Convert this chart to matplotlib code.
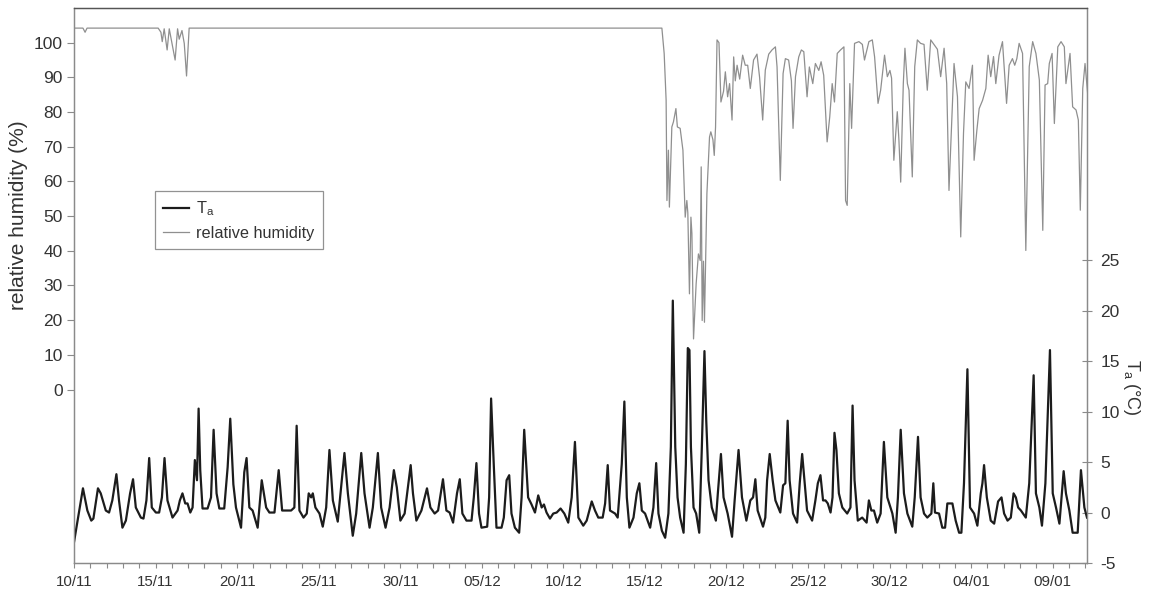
import matplotlib
matplotlib.use("Agg")
import matplotlib.pyplot as plt
from matplotlib.ticker import MultipleLocator, FixedLocator

plt.rcParams['font.family'] = ['Liberation Sans', 'DejaVu Sans']
plt.rcParams['mathtext.default'] = 'regular'
plt.rcParams['axes.unicode_minus'] = False

# x values are days after 10/11
tick_labels = ['10/11', '15/11', '20/11', '25/11', '30/11', '05/12', '10/12',
               '15/12', '20/12', '25/12', '30/12', '04/01', '09/01']

# air temperature (deg C)
ta_day = [0.00, 0.55, 0.82, 1.06, 1.19, 1.47, 1.64, 1.95, 2.15, 2.35, 2.60, 2.76, 2.97, 3.18,
          3.44, 3.62, 3.79, 4.10, 4.26, 4.44, 4.61, 4.77, 5.02, 5.22, 5.39, 5.55, 5.73, 6.04,
          6.35, 6.49, 6.65, 6.82, 6.96, 7.13, 7.27, 7.41, 7.54, 7.64, 7.74, 7.88, 8.19, 8.40,
          8.56, 8.74, 8.91, 9.21, 9.42, 9.58, 9.77, 9.93, 10.24, 10.44, 10.58, 10.75, 10.95,
          11.26, 11.51, 11.78, 11.98, 12.29, 12.55, 12.76, 12.96, 13.31, 13.51, 13.65, 13.82,
          14.07, 14.27, 14.39, 14.54, 14.64, 14.80, 15.05, 15.25, 15.46, 15.66, 15.87, 16.17,
          16.58, 16.79, 17.09, 17.30, 17.61, 17.81, 18.12, 18.32, 18.63, 18.83, 19.10, 19.35,
          19.61, 19.79, 20.01, 20.27, 20.64, 20.78, 20.99, 21.30, 21.64, 21.85, 22.11, 22.32,
          22.62, 22.83, 23.03, 23.24, 23.48, 23.65, 23.81, 24.06, 24.37, 24.51, 24.67, 24.83,
          24.98, 25.33, 25.45, 25.57, 25.74, 25.90, 26.21, 26.35, 26.52, 26.68, 26.82, 27.03,
          27.29, 27.44, 27.60, 27.84, 28.05, 28.26, 28.46, 28.67, 28.81, 28.97, 29.18, 29.38,
          29.59, 29.83, 30.06, 30.30, 30.51, 30.71, 30.92, 31.22, 31.43, 31.74, 31.94, 32.14,
          32.41, 32.56, 32.72, 32.86, 33.17, 33.33, 33.58, 33.74, 33.89, 34.05, 34.30, 34.50,
          34.66, 34.81, 35.01, 35.32, 35.52, 35.69, 35.83, 36.04, 36.24, 36.44, 36.59, 36.71,
          36.86, 37.00, 37.16, 37.37, 37.51, 37.63, 37.73, 37.82, 37.98, 38.14, 38.33, 38.49,
          38.65, 38.76, 38.90, 39.10, 39.35, 39.47, 39.66, 39.82, 40.07, 40.34, 40.50, 40.74,
          40.95, 41.22, 41.46, 41.63, 41.77, 41.91, 42.24, 42.38, 42.49, 42.65, 42.83, 43.00,
          43.30, 43.47, 43.61, 43.75, 43.87, 44.08, 44.33, 44.49, 44.64, 44.78, 44.94, 45.25,
          45.45, 45.60, 45.76, 45.92, 46.07, 46.21, 46.38, 46.50, 46.62, 46.74, 46.89, 47.10,
          47.40, 47.60, 47.73, 47.85, 48.05, 48.32, 48.59, 48.73, 48.88, 49.04, 49.24, 49.45,
          49.65, 49.86, 50.17, 50.37, 50.51, 50.68, 50.88, 51.09, 51.39, 51.54, 51.74, 51.90,
          52.11, 52.31, 52.56, 52.68, 52.78, 53.03, 53.23, 53.40, 53.54, 53.85, 54.05, 54.26,
          54.40, 54.56, 54.77, 54.93, 55.18, 55.38, 55.59, 55.69, 55.79, 55.96, 56.20, 56.41,
          56.65, 56.86, 57.02, 57.23, 57.43, 57.60, 57.74, 57.88, 58.05, 58.35, 58.56, 58.83,
          58.97, 59.18, 59.34, 59.55, 59.83, 60.00, 60.20, 60.41, 60.67, 60.81, 61.02, 61.22,
          61.53, 61.73, 61.94, 62.10]
ta_val = [-2.95, 2.4, 0.2, -0.8, -0.6, 2.4, 1.9, 0.2, 0.0, 1.2, 3.8, 1.2, -1.5, -0.8,
          1.9, 3.3, 0.5, -0.5, -0.6, 1.2, 5.4, 0.5, 0.0, 0.0, 1.5, 5.4, 1.2, -0.5,
          0.2, 1.2, 1.9, 0.9, 0.9, 0.0, 0.5, 5.2, 3.2, 10.3, 4.2, 0.4, 0.4, 1.5,
          8.2, 1.9, 0.4, 0.4, 4.5, 9.3, 2.8, 0.5, -1.5, 4.0, 5.4, 0.5, 0.2,
          -1.5, 3.2, 0.5, 0.0, 0.0, 4.2, 0.2, 0.2, 0.2, 0.5, 8.6, 0.2,
          -0.5, -0.1, 1.9, 1.5, 1.9, 0.5, -0.1, -1.4, 0.5, 6.2, 1.2, -0.9,
          5.9, 1.9, -2.3, -0.1, 5.9, 1.9, -1.5, 0.5, 5.9, 0.5, -1.5, 0.5,
          4.2, 2.5, -0.8, -0.1, 4.7, 1.9, -0.8, 0.2, 2.4, 0.5, -0.1, 0.2,
          3.3, 0.2, 0.0, -1.0, 1.9, 3.3, -0.1, -0.8, -0.8, 1.5, 4.9, -0.1,
          -1.5, -1.4, 1.5, 11.3, 4.5, -1.5, -1.5, -0.5, 3.2, 3.7, -0.1, -1.5,
          -2.0, 1.5, 8.2, 1.5, 0.8, 0.0, 1.7, 0.5, 0.8, 0.0, -0.6, -0.1,
          0.0, 0.4, -0.1, -1.0, 1.5, 7.0, -0.5, -1.3, -0.8, 1.1, 0.2, -0.5,
          -0.5, 0.9, 4.7, 0.2, -0.1, -0.5, 4.8, 11.0, 1.5, -1.5, -0.5, 1.9,
          2.9, 0.2, -0.1, -1.5, 0.5, 4.9, -0.1, -1.8, -2.5, -0.1, 6.5, 21.0,
          6.5, 1.5, -0.5, -2.0, 4.8, 16.3, 16.1, 6.5, 0.5, -0.1, -2.0, 6.5,
          16.0, 9.1, 3.2, 0.5, -0.8, 1.9, 5.8, 1.5, -0.1, -2.4, 1.2, 6.2,
          1.5, -0.8, 1.2, 1.5, 3.3, 0.2, -1.4, -0.5, 3.2, 5.8, 3.2, 1.2,
          0.0, 2.7, 2.9, 9.1, 3.2, -0.1, -1.0, 2.9, 5.8, 3.2, 0.2, -0.8,
          1.2, 2.9, 3.7, 1.2, 1.2, 0.9, 0.0, 1.5, 7.9, 6.2, 1.9, 0.5,
          -0.1, 0.5, 10.6, 3.2, -0.8, -0.5, -1.0, 1.2, 0.2, 0.2, -1.0, -0.1,
          7.0, 1.5, -0.1, -2.0, 1.5, 8.2, 1.9, -0.1, -1.4, 1.5, 7.5, 1.5,
          -0.1, -0.5, -0.1, 2.9, 0.0, -0.1, -1.5, -1.5, 0.9, 0.9, -0.8, -2.0,
          -2.0, 2.9, 14.2, 0.5, -0.1, -1.3, 1.9, 2.9, 4.7, 1.5, -0.8, -1.1,
          1.1, 1.5, -0.1, -0.8, -0.5, 1.9, 1.5, 0.5, 0.2, -0.5, 2.9, 13.6,
          1.9, 0.5, -1.3, 2.9, 16.1, 1.9, 0.5, -1.1, 4.1, 1.9, 0.2, -2.0,
          -2.0, 4.2, 0.5, -0.5]

# relative humidity (%)
rh_day = [0.00, 0.55, 0.68, 0.80, 5.16, 5.33, 5.41, 5.53, 5.71, 5.84, 5.94, 6.20, 6.35, 6.45,
          6.62, 6.76, 6.90, 7.06, 36.04, 36.18, 36.30, 36.35, 36.44, 36.50, 36.65, 36.75,
          36.90, 36.99, 37.16, 37.33, 37.47, 37.57, 37.63, 37.73, 37.82, 37.88, 37.98, 38.14,
          38.28, 38.39, 38.45, 38.51, 38.59, 38.65, 38.80, 38.96, 39.04, 39.17, 39.25, 39.33,
          39.42, 39.54, 39.66, 39.82, 39.93, 40.07, 40.19, 40.34, 40.44, 40.54, 40.65, 40.81,
          40.99, 41.15, 41.30, 41.46, 41.66, 41.87, 42.03, 42.22, 42.38, 42.59, 42.79, 43.00,
          43.10, 43.30, 43.47, 43.61, 43.81, 43.98, 44.08, 44.23, 44.43, 44.59, 44.74, 44.94,
          45.08, 45.29, 45.45, 45.66, 45.80, 45.96, 46.17, 46.33, 46.48, 46.62, 46.79, 46.99,
          47.20, 47.30, 47.40, 47.56, 47.67, 47.85, 48.12, 48.33, 48.46, 48.73, 48.94, 49.08,
          49.29, 49.45, 49.69, 49.86, 50.02, 50.12, 50.26, 50.47, 50.57, 50.68, 50.84, 50.94,
          51.09, 51.19, 51.39, 51.54, 51.70, 51.90, 52.11, 52.31, 52.52, 52.72, 52.93, 53.13,
          53.34, 53.50, 53.64, 53.95, 54.16, 54.36, 54.53, 54.67, 54.87, 55.08, 55.18, 55.35,
          55.49, 55.70, 55.90, 56.04, 56.20, 56.37, 56.51, 56.71, 56.92, 57.17, 57.33, 57.53,
          57.67, 57.80, 57.94, 58.15, 58.35, 58.56, 58.77, 58.97, 59.18, 59.39, 59.53, 59.69,
          59.79, 59.96, 60.10, 60.31, 60.51, 60.71, 60.81, 61.06, 61.22, 61.43, 61.57, 61.69,
          61.84, 61.98, 62.14]
rh_val = [104.2, 104.2, 103.0, 104.2, 104.2, 103.0, 100.3, 104.0, 97.9, 104.0, 101.5, 95.0, 104.0, 101.0,
          103.5, 99.8, 90.4, 104.2, 104.2, 96.9, 83.4, 54.5, 69.0, 52.6, 75.7, 77.2,
          81.0, 75.7, 75.3, 69.0, 49.7, 54.5, 51.0, 27.6, 49.7, 45.0, 14.6, 30.5,
          39.1, 37.2, 64.2, 19.9, 37.0, 19.4, 56.5, 72.8, 74.3, 72.0, 67.5, 75.7,
          100.8, 100.0, 82.9, 86.0, 91.6, 84.4, 88.2, 77.7, 95.9, 89.0, 93.5, 89.5,
          96.4, 93.5, 93.5, 86.8, 95.0, 96.7, 90.0, 77.7, 92.1, 96.7, 97.9, 98.8,
          93.0, 60.3, 91.1, 95.4, 95.0, 89.0, 75.3, 90.2, 95.9, 97.9, 97.4, 84.4,
          93.0, 88.2, 94.0, 92.0, 94.5, 90.6, 71.4, 78.6, 88.2, 82.9, 96.9, 97.9,
          98.8, 54.5, 53.1, 88.2, 75.3, 99.8, 100.3, 99.5, 95.0, 100.3, 100.8, 95.9,
          82.5, 86.3, 96.4, 90.2, 92.0, 89.8, 66.1, 80.1, 72.0, 59.8, 88.2, 98.4,
          88.2, 86.3, 61.3, 93.1, 100.8, 99.8, 99.5, 86.3, 100.8, 99.5, 98.1, 90.2,
          98.4, 88.2, 57.4, 94.0, 84.4, 44.0, 73.9, 88.7, 86.8, 93.5, 66.1, 74.8,
          81.0, 83.4, 86.8, 96.4, 90.2, 96.0, 88.2, 96.4, 100.3, 82.5, 93.5, 95.4,
          93.5, 95.4, 99.8, 96.9, 40.1, 93.1, 100.3, 96.9, 89.2, 45.9, 87.8, 88.2,
          94.0, 96.9, 76.7, 98.8, 100.3, 98.8, 88.2, 96.9, 81.5, 80.6, 77.7, 51.7,
          86.8, 94.0, 85.4]

fig = plt.figure(figsize=(11.56, 5.92), dpi=100)
ax = fig.add_axes([0.064, 0.049, 0.8763, 0.9375])
ax2 = ax.twinx()

spine_col = '#8a8a8a'
text_col = '#333333'

rh_line, = ax.plot(rh_day, rh_val, color='#8f8f8f', lw=0.9, label='relative humidity')
ta_line, = ax2.plot(ta_day, ta_val, color='#1c1c1c', lw=1.6, label='T$_a$')

ax.set_xlim(0, 62.1)
ax.set_ylim(-50, 110)
ax2.set_ylim(-5, 50)

ax.xaxis.set_major_locator(FixedLocator(list(range(0, 61, 5))))
ax.set_xticklabels(tick_labels)
ax.xaxis.set_minor_locator(MultipleLocator(1))
ax.set_yticks(list(range(0, 101, 10)))
ax2.set_yticks(list(range(-5, 26, 5)))

ax.tick_params(axis='x', which='both', direction='out', length=3.5, width=0.8,
               color=spine_col, labelsize=10.8, labelcolor=text_col, pad=5)
ax.tick_params(axis='y', direction='out', length=5, width=0.8, color=spine_col,
               labelsize=12.5, labelcolor=text_col, pad=3)
ax2.tick_params(axis='y', direction='inout', length=7, width=0.8, color=spine_col,
                labelsize=12.5, labelcolor=text_col, pad=6)

for a in (ax, ax2):
    for s in a.spines.values():
        s.set_color(spine_col)
        s.set_linewidth(0.9)
ax.spines['top'].set_color('#555555')
ax2.spines['top'].set_color('#555555')

ax.set_ylabel('relative humidity (%)', fontsize=15, color=text_col)
ax.yaxis.set_label_coords(-0.045, 0.627)
ax2.set_ylabel('T$_a$ (°C)', fontsize=13, color=text_col, rotation=270, va='center', ha='center')
ax2.yaxis.set_label_coords(1.044, 0.317)

leg = ax2.legend(handles=[ta_line, rh_line], loc='upper left', bbox_to_anchor=(0.08, 0.67),
                 borderaxespad=0, fancybox=False, frameon=True, fontsize=11.7,
                 handlelength=1.6, labelspacing=0.5, borderpad=0.5, handletextpad=0.45)
leg.get_frame().set_edgecolor('#777777')
leg.get_frame().set_linewidth(0.9)
for t in leg.get_texts():
    t.set_color(text_col)

fig.savefig('out.png', dpi=100)
